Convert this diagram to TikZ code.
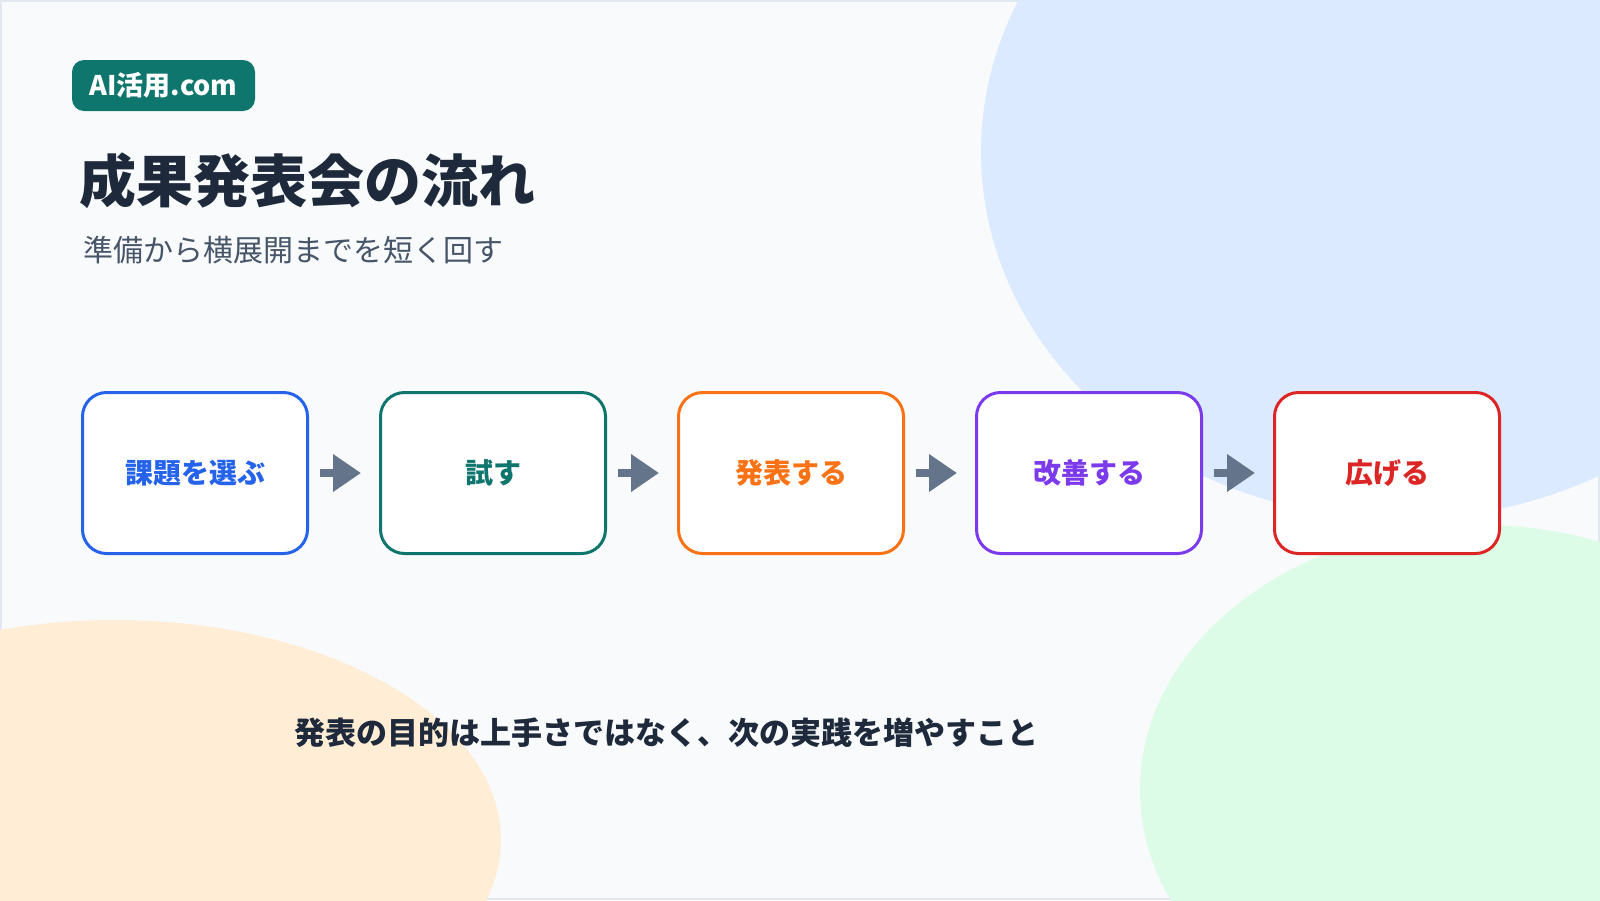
\documentclass[tikz,border=0pt]{standalone}
\usepackage{fontspec}
\setmainfont{Noto Sans CJK JP}
\usetikzlibrary{arrows.meta}
\definecolor{pageedge}{HTML}{E2E8F0}
\definecolor{pagebg}{HTML}{F8FAFC}
\definecolor{blobblue}{HTML}{DBEAFE}
\definecolor{blobgreen}{HTML}{DCFCE7}
\definecolor{bloborange}{HTML}{FFEDD5}
\definecolor{ink}{HTML}{1E293B}
\definecolor{subink}{HTML}{475569}
\definecolor{arrowgray}{HTML}{64748B}
\definecolor{stepblue}{HTML}{2563EB}
\definecolor{stepteal}{HTML}{0F766E}
\definecolor{steporange}{HTML}{F97316}
\definecolor{steppurple}{HTML}{7C3AED}
\definecolor{stepred}{HTML}{DC2626}
\tikzset{
  stepbox/.style={draw=#1, text=#1, fill=white, line width=3pt,
    rounded corners=24pt, minimum width=225pt, minimum height=161pt,
    inner sep=0pt, font=\bfseries\fontsize{28}{34}\selectfont},
  flowarrow/.style={draw=arrowgray, line width=8pt,
    -{Triangle[length=28pt, width=36pt]}, shorten <=11pt, shorten >=18pt},
  badge/.style={fill=stepteal, text=white, rounded corners=12pt,
    minimum width=183pt, minimum height=51pt, inner sep=0pt,
    font=\bfseries\fontsize{27}{32}\selectfont}
}
\begin{document}
\begin{tikzpicture}[x=1pt,y=-1pt]
\useasboundingbox (0,0) rectangle (1600,900);
\fill[pageedge] (0,0) rectangle (1600,900);
\fill[pagebg] (2,2) rectangle (1598,898);
\begin{scope}
\clip (0,0) rectangle (1600,900);
\fill[blobblue] (1401,152) ellipse [x radius=420, y radius=367];
\fill[blobgreen] (1480,790) ellipse [x radius=340, y radius=265];
\fill[bloborange] (115,840) ellipse [x radius=386, y radius=220];
\end{scope}
\node[badge] (logo) at (163.5,85.5) {AI活用.com};
\node[anchor=west, inner sep=0pt, text=ink, font=\bfseries\fontsize{57}{64}\selectfont] (title) at (79,181) {成果発表会の流れ};
\node[anchor=west, inner sep=0pt, text=subink, font=\fontsize{30}{36}\selectfont] (subtitle) at (83,250) {準備から横展開までを短く回す};
\foreach \i/\c/\n in {1/stepblue/課題を選ぶ,2/stepteal/試す,3/steporange/発表する,4/steppurple/改善する,5/stepred/広げる}{
    \node[stepbox=\c] (step\i) at (195+298*\i-298,473) {\n};
}
\foreach \i/\j in {1/2,2/3,3/4,4/5}{
    \draw[flowarrow] (step\i) -- (step\j);
}
\node[inner sep=0pt, text=ink, font=\bfseries\fontsize{31}{36}\selectfont] (note) at (666,733) {発表の目的は上手さではなく、次の実践を増やすこと};
\end{tikzpicture}
\end{document}
